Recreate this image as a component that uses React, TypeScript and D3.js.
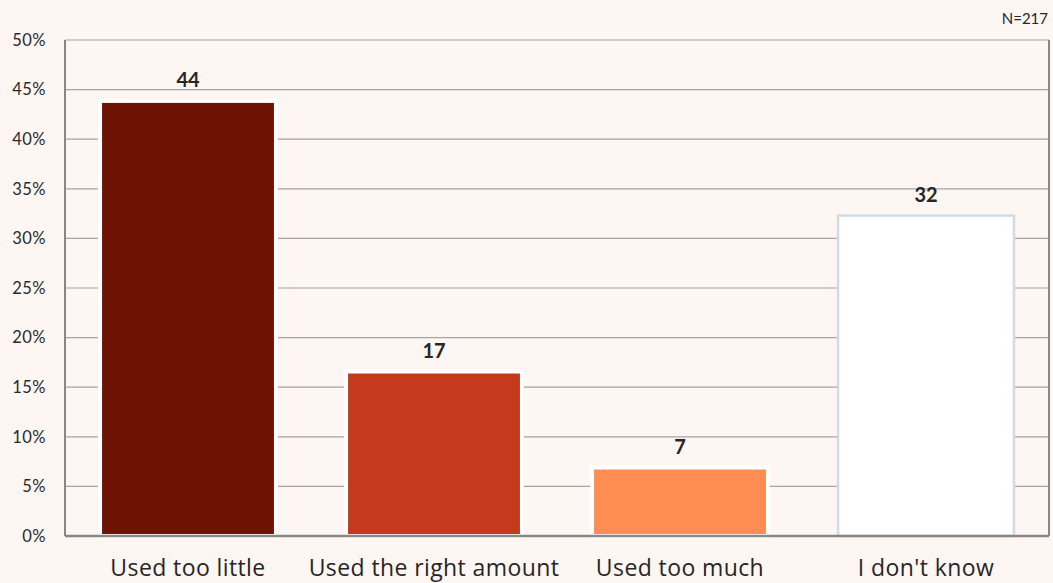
import React from "react";
import * as d3 from "d3";

const categories = ["Used too little", "Used the right amount", "Used too much", "I don't know"];
const values = [43.86, 16.58, 6.9, 32.3];
const valueLabels = ["44", "17", "7", "32"];
const fills = ["#6e1206", "#c43a1d", "#fe8c53", "#ffffff"];
const strokes = ["#ffffff", "#ffffff", "#ffffff", "#d0dbe3"];
const yTicks = [0, 5, 10, 15, 20, 25, 30, 35, 40, 45, 50];
const nLabel = "N=217";

const W = 1053;
const H = 583;
const left = 65;
const right = 1049;
const top = 40;
const bottom = 536;

export default function App() {
  const x = d3.scaleBand<string>().domain(categories).range([left, right]).paddingInner(0.285).paddingOuter(0.1425);
  const y = d3.scaleLinear().domain([0, 50]).range([bottom, top]);
  const font = "Lato, 'Open Sans', sans-serif";
  return (
    <svg width={W} height={H} style={{ position: "absolute", left: 0, top: 0 }} fontFamily={font}>
      <rect x={0} y={0} width={W} height={H} fill="#fdf6f3" />
      {yTicks.map((t) => (
        <g key={t}>
          <line x1={left} x2={right} y1={y(t)} y2={y(t)} stroke="#a8a4a2" strokeWidth={1.2} />
          <text x={46} y={y(t)} dy="0.35em" textAnchor="end" fontSize={16.5} fill="#2a2a2a" letterSpacing={0.5}>
            {t}%
          </text>
        </g>
      ))}
      {categories.map((c, i) => {
        const bx = x(c)!;
        const bw = x.bandwidth();
        return (
          <g key={c}>
            <rect
              x={bx}
              y={y(values[i])}
              width={bw}
              height={y(0) - y(values[i])}
              fill={fills[i]}
              stroke={strokes[i]}
              strokeWidth={i === 3 ? 2.5 : 4}
            />
            <text x={bx + bw / 2} y={y(values[i]) - 14} textAnchor="middle" fontSize={20} fontWeight="bold" fill="#262626">
              {valueLabels[i]}
            </text>
            <text x={bx + bw / 2} y={576} textAnchor="middle" fontSize={23} fill="#262626" fontFamily="'Open Sans', sans-serif" letterSpacing={0.4}>
              {c}
            </text>
          </g>
        );
      })}
      <line x1={left} x2={left} y1={top} y2={bottom} stroke="#8a8685" strokeWidth={2} />
      <line x1={right} x2={right} y1={top} y2={bottom} stroke="#8a8685" strokeWidth={2} />
      <line x1={left} x2={right} y1={bottom} y2={bottom} stroke="#8a8685" strokeWidth={2.5} />
      <text x={1048} y={24} textAnchor="end" fontSize={15} fill="#262626">
        {nLabel}
      </text>
    </svg>
  );
}
